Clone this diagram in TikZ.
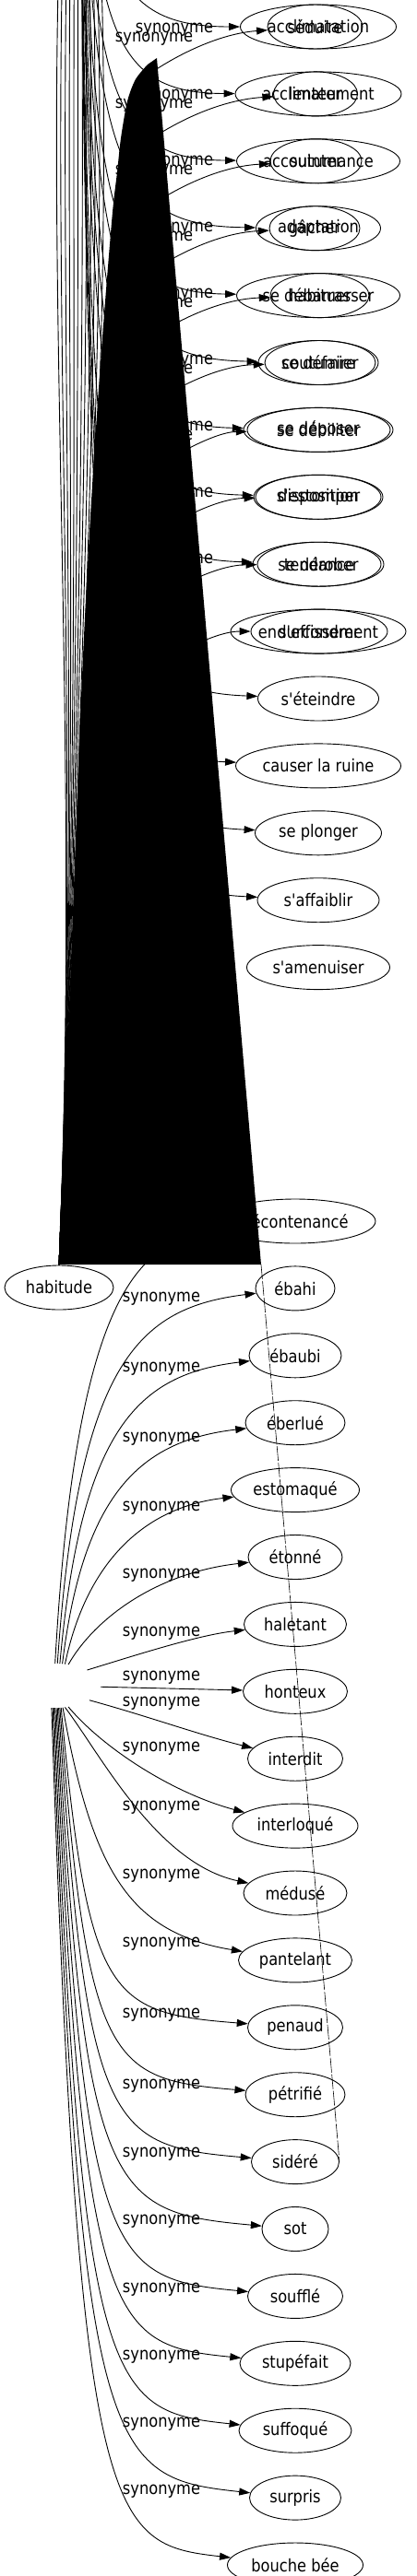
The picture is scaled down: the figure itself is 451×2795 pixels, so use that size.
\documentclass[tikz,border=0pt]{standalone}
\usepackage{fontspec}
\newfontfamily\gvfont{DejaVu Sans}[FakeStretch=0.87]
\usetikzlibrary{arrows.meta,chains,positioning,shapes.geometric}
\tikzstyle{syn}=[ellipse,draw,line width=0.9pt,inner sep=0pt,minimum height=48pt]
\tikzstyle{ghost}=[ellipse,inner sep=0pt,minimum height=48pt,minimum width=102pt]
\tikzstyle{edge}=[line width=0.9pt,-{Triangle[length=12pt,width=8pt]}]
\tikzstyle{wire}=[line width=0.9pt]
\tikzstyle{lbl}=[inner sep=0pt,anchor=base]
\tikzset{wd/.style={minimum width=#1pt}}

\begin{document}
\begin{tikzpicture}[x=1pt,y=-1pt,font=\gvfont\fontsize{18.67}{22}\selectfont]
\useasboundingbox (0,0) rectangle (451,2795);
\clip (0,0) rectangle (451,2795);

% upper column
\begin{scope}[shift={(345,29)},start chain=1 going below,node distance=24pt]
    \node [on chain=1,syn,wd=169] (acclimatation) {acclimatation};
    \node [on chain=1,syn,wd=180] (acclimatement) {acclimatement};
    \node [on chain=1,syn,wd=177] (accoutumance) {accoutumance};
    \node [on chain=1,syn,wd=135] (adaptation) {adaptation};
    \node [on chain=1,syn,wd=177] (debarrasser) {se débarrasser};
    \node [on chain=1,syn,wd=130] (defaire) {se défaire};
    \node [on chain=1,syn,wd=162] (deposer) {se déposer};
    \node [on chain=1,syn,wd=140] (disposition) {disposition};
    \node [on chain=1,syn,wd=142] (derober) {se dérober};
    \node [on chain=1,syn,wd=190] (endurcissement) {endurcissement};
    \node [on chain=1,syn,wd=131] (eteindre) {s'éteindre};
    \node [on chain=1,syn,wd=179] (ruine) {causer la ruine};
    \node [on chain=1,syn,wd=137] (plonger) {se plonger};
    \node [on chain=1,syn,wd=132] (affaiblir) {s'affaiblir};
    \node [on chain=1,syn,wd=155] (amenuiser) {s'amenuiser};
\end{scope}
% second layer of the upper column
\node [syn,wd=103,xshift=-3.5pt] (seduire) at (acclimatation) {séduire};
\node [syn,wd=91,xshift=-3pt] (lenteur) at (acclimatement) {lenteur};
\node [syn,wd=99,xshift=-2.5pt] (suinter) at (accoutumance) {suinter};
\node [syn,wd=98,xshift=-4pt] (gacher) at (adaptation) {gâcher};
\node [syn,wd=107,xshift=1.5pt] (habituer) at (debarrasser) {habituer};
\node [syn,wd=120,xshift=2pt] (coutumier) at (defaire) {coutumier};
\node [syn,wd=155,xshift=0.5pt] (debiliter) at (deposer) {se débiliter};
\node [syn,wd=136] (estomper) at (disposition) {s'estomper};
\node [syn,wd=134,xshift=1pt] (tendance) at (derober) {tendance};
\node [syn,wd=148,xshift=1pt] (effondrer) at (endurcissement) {s'effondrer};

% lower column
\begin{scope}[shift={(320,1325)},start chain=2 going below,node distance=24pt]
    \node [on chain=2,syn,wd=174] (decontenance) {décontenancé};
    \node [on chain=2,syn,wd=86] (ebahi) {ébahi};
    \node [on chain=2,syn,wd=100] (ebaubi) {ébaubi};
    \node [on chain=2,syn,wd=108] (eberlue) {éberlué};
    \node [on chain=2,syn,wd=139] (estomaque) {estomaqué};
    \node [on chain=2,syn,wd=102] (etonne) {étonné};
    \node [on chain=2,syn,wd=111] (haletant) {haletant};
    \node [on chain=2,syn,wd=113] (honteux) {honteux};
    \node [on chain=2,syn,wd=103] (interdit) {interdit};
    \node [on chain=2,syn,wd=136] (interloque) {interloqué};
    \node [on chain=2,syn,wd=112] (meduse) {médusé};
    \node [on chain=2,syn,wd=123] (pantelant) {pantelant};
    \node [on chain=2,syn,wd=103] (penaud) {penaud};
    \node [on chain=2,syn,wd=108] (petrifie) {pétrifié};
    \node [on chain=2,syn,wd=95] (sidere) {sidéré};
    \node [on chain=2,syn,wd=72] (sot) {sot};
    \node [on chain=2,syn,wd=103] (souffle) {soufflé};
    \node [on chain=2,syn,wd=120] (stupefait) {stupéfait};
    \node [on chain=2,syn,wd=122] (suffoque) {suffoqué};
    \node [on chain=2,syn,wd=99] (surpris) {surpris};
    \node [on chain=2,syn,wd=147] (boucheebee) {bouche bée};
\end{scope}

\node [syn,wd=118] (habitude) at (64,1397) {habitude};
\node [ghost] (hub) at (58,1829) {};
\coordinate (top) at (85,-400);
\coordinate (blktop) at (170,63);
\coordinate (blkse) at (283,1372);

% bundle running up out of the picture
\draw [wire] (top) .. controls (30,150) and (92,700) .. (habitude.north);
\draw [wire] (top) .. controls (40,150) and (92,700) .. (habitude.north);
\draw [wire] (top) .. controls (51,150) and (92,700) .. (habitude.north);
\draw [wire] (top) .. controls (61,150) and (92,700) .. (habitude.north);
\draw [wire] (top) .. controls (72,150) and (92,700) .. (habitude.north);
\draw [wire] (top) .. controls (82,150) and (92,700) .. (habitude.north);
\draw [wire] (top) .. controls (93,150) and (92,700) .. (habitude.north);
\draw [wire] (top) .. controls (103,150) and (92,700) .. (habitude.north);
\draw [wire] (top) .. controls (114,150) and (92,700) .. (habitude.north);
\draw [wire] (top) .. controls (124,150) and (92,700) .. (habitude.north);
\draw [wire] (top) .. controls (135,150) and (92,700) .. (habitude.north);
\draw [wire] (top) .. controls (145,150) and (92,700) .. (habitude.north);

% upper edges, first layer
\draw [edge] (top) .. controls (95,-51) and (110,29) .. (acclimatation) node [lbl] at (189,35) {synonyme};
\draw [edge] (top) .. controls (95,21) and (110,101) .. (acclimatement) node [lbl] at (189,107) {synonyme};
\draw [edge] (top) .. controls (95,93) and (110,173) .. (accoutumance) node [lbl] at (189,179) {synonyme};
\draw [edge] (top) .. controls (95,165) and (110,245) .. (adaptation) node [lbl] at (189,251) {synonyme};
\draw [edge] (top) .. controls (95,237) and (110,317) .. (debarrasser) node [lbl] at (189,323) {synonyme};
\draw [edge] (top) .. controls (95,309) and (110,389) .. (defaire) node [lbl] at (189,395) {synonyme};
\draw [edge] (top) .. controls (95,381) and (110,461) .. (deposer) node [lbl] at (189,467) {synonyme};
\draw [edge] (top) .. controls (95,453) and (110,533) .. (disposition) node [lbl] at (189,539) {synonyme};
\draw [edge] (top) .. controls (95,525) and (110,605) .. (derober) node [lbl] at (189,611) {synonyme};
\draw [edge] (top) .. controls (95,669) and (110,749) .. (eteindre);
\draw [edge] (top) .. controls (95,741) and (110,821) .. (ruine);
\draw [edge] (top) .. controls (95,813) and (110,893) .. (plonger);
\draw [edge] (top) .. controls (95,885) and (110,965) .. (affaiblir);

% upper edges, second layer
\draw [edge] (habitude.north) -- (150,89) .. controls (175,69) and (230,37) .. (seduire) node [lbl] at (167,45) {synonyme};
\draw [edge] (habitude.north) -- (150,161) .. controls (175,141) and (230,109) .. (lenteur) node [lbl] at (167,117) {synonyme};
\draw [edge] (habitude.north) -- (150,233) .. controls (175,213) and (230,181) .. (suinter) node [lbl] at (167,189) {synonyme};
\draw [edge] (habitude.north) -- (150,305) .. controls (175,285) and (230,253) .. (gacher) node [lbl] at (167,261) {synonyme};
\draw [edge] (habitude.north) -- (150,377) .. controls (175,357) and (230,325) .. (habituer) node [lbl] at (167,333) {synonyme};
\draw [edge] (habitude.north) -- (150,449) .. controls (175,429) and (230,397) .. (coutumier) node [lbl] at (167,405) {synonyme};
\draw [edge] (habitude.north) -- (150,521) .. controls (175,501) and (230,469) .. (debiliter) node [lbl] at (167,477) {synonyme};
\draw [edge] (habitude.north) -- (150,593) .. controls (175,573) and (230,541) .. (estomper) node [lbl] at (167,549) {synonyme};
\draw [edge] (habitude.north) -- (150,665) .. controls (175,645) and (230,613) .. (tendance) node [lbl] at (167,621) {synonyme};
\draw [edge] (habitude.north) -- (150,737) .. controls (175,717) and (230,685) .. (effondrer);

% lower fan
\draw [edge] (hub.86) .. controls (82,1405) and (150,1347) .. (decontenance);
\draw [edge] (hub.80) .. controls (85,1477) and (150,1419) .. (ebahi) node [lbl] at (175,1412) {synonyme};
\draw [edge] (hub.74) .. controls (88,1549) and (150,1491) .. (ebaubi) node [lbl] at (175,1488) {synonyme};
\draw [edge] (hub.68) .. controls (90,1621) and (152,1563) .. (eberlue) node [lbl] at (175,1564) {synonyme};
\draw [edge] (hub.62) .. controls (94,1693) and (158,1635) .. (estomaque) node [lbl] at (175,1639) {synonyme};
\draw [edge] (hub.55) .. controls (100,1760) and (165,1707) .. (etonne) node [lbl] at (175,1712) {synonyme};
\draw [edge] (hub.25) .. controls (150,1795) and (215,1774) .. (haletant) node [lbl] at (175,1775) {synonyme};
\draw [edge] (hub) -- (honteux) node [lbl] at (175,1823) {synonyme};
\draw [edge] (hub.-22) .. controls (160,1862) and (215,1882) .. (interdit) node [lbl] at (175,1851) {synonyme};
\draw [edge] (hub.-55) .. controls (110,1895) and (185,1945) .. (interloque) node [lbl] at (175,1900) {synonyme};
\draw [edge] (hub.-62) .. controls (110,1905) and (170,2022) .. (meduse) node [lbl] at (175,1964) {synonyme};
\draw [edge] (hub.-67) .. controls (100,2030) and (140,2097) .. (pantelant) node [lbl] at (175,2038) {synonyme};
\draw [edge] (hub.-71) .. controls (96,2169) and (118,2184) .. (penaud) node [lbl] at (175,2112) {synonyme};
\draw [edge] (hub.-74) .. controls (95,2241) and (118,2256) .. (petrifie) node [lbl] at (175,2189) {synonyme};
\draw [edge] (hub.-77) .. controls (94,2313) and (118,2328) .. (sidere) node [lbl] at (175,2266) {synonyme};
\draw [edge] (hub.-80) .. controls (92,2385) and (118,2400) .. (sot) node [lbl] at (175,2340) {synonyme};
\draw [edge] (hub.-83) .. controls (91,2457) and (118,2472) .. (souffle) node [lbl] at (175,2413) {synonyme};
\draw [edge] (hub.-86) .. controls (90,2529) and (118,2544) .. (stupefait) node [lbl] at (175,2487) {synonyme};
\draw [edge] (hub.-89) .. controls (88,2601) and (118,2616) .. (suffoque) node [lbl] at (175,2560) {synonyme};
\draw [edge] (hub.-92) .. controls (87,2673) and (118,2688) .. (surpris) node [lbl] at (175,2633) {synonyme};
\draw [edge] (hub.-95) .. controls (86,2745) and (118,2760) .. (boucheebee) node [lbl] at (175,2706) {synonyme};

% the dark wedge over the upper edges
\fill (blkse) -- (blktop) -- plot [smooth] coordinates {(160,70) (147,86) (138,110) (131,150) (127,187) (122,230) (113,340) (105,450) (98,560) (92,670) (87,780) (83,890) (79,1000) (75,1110) (70,1220) (65,1330) (64,1372)} -- cycle;
\draw [line width=0.6pt,dash pattern=on 16pt off 2pt] (blkse) -- (sidere.east);
\end{tikzpicture}
\end{document}
